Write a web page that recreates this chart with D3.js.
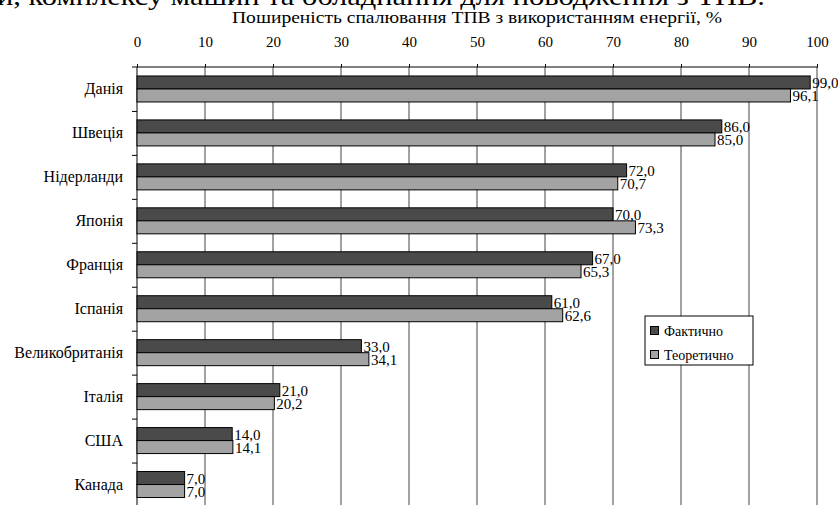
<!DOCTYPE html>
<html>
<head>
<meta charset="utf-8">
<script src="https://cdn.jsdelivr.net/npm/d3@7"></script>
</head>
<body style="margin:0">
<svg id="chart" width="838" height="505"></svg>
<script>
const COUNTRIES = ["Данія", "Швеція", "Нідерланди", "Японія", "Франція", "Іспанія",
  "Великобританія", "Італія", "США", "Канада"];
const ACTUAL = [99.0, 86.0, 72.0, 70.0, 67.0, 61.0, 33.0, 21.0, 14.0, 7.0];
const THEORETICAL = [96.1, 85.0, 70.7, 73.3, 65.3, 62.6, 34.1, 20.2, 14.1, 7.0];
const SERIES = ["Фактично", "Теоретично"];
const X_TICKS = [0, 10, 20, 30, 40, 50, 60, 70, 80, 90, 100];

const FONT = '"Liberation Serif", monospace';
const colors = { "Фактично": "#4a4a4a", "Теоретично": "#a3a3a3" };
const rows = COUNTRIES.map((c, i) => ({ country: c, values: [
  { key: "Фактично", value: ACTUAL[i] },
  { key: "Теоретично", value: THEORETICAL[i] },
] }));

const svg = d3.select("#chart");
const plotTop = 67, plotBottom = 506.5, plotLeft = 137, plotRight = 817;

const fmt = (v) => d3.format(".1f")(v).replace(".", ",");

// clipped heading line of the page above the chart
svg.append("text")
  .attr("x", -3).attr("y", 5)
  .attr("font-size", 26)
  .attr("textLength", 768).attr("lengthAdjust", "spacingAndGlyphs")
  .text("и, комплексу машин та обладнання для поводження з ТПВ.");

svg.append("text")
  .attr("x", 232).attr("y", 23)
  .attr("font-size", 17)
  .attr("textLength", 490).attr("lengthAdjust", "spacingAndGlyphs")
  .text("Поширеність спалювання ТПВ з використанням енергії, %");

const x = d3.scaleLinear().domain([0, 100]).range([plotLeft, plotRight]);
const y = d3.scaleBand().domain(COUNTRIES).range([plotTop, plotBottom]).padding(0);
const bw = y.bandwidth();
const ySub = d3.scaleBand().domain(SERIES).range([bw / 2 - 13, bw / 2 + 13]).padding(0);

// vertical grid
svg.append("g")
  .selectAll("line")
  .data(X_TICKS.slice(1))
  .join("line")
  .attr("x1", (d) => x(d)).attr("x2", (d) => x(d))
  .attr("y1", plotTop).attr("y2", plotBottom)
  .attr("stroke", "#444").attr("stroke-width", 1);

// top axis
const xAxis = svg.append("g")
  .attr("transform", `translate(0,${plotTop})`)
  .call(d3.axisTop(x).tickValues(X_TICKS).tickSize(3).tickPadding(17).tickSizeOuter(0));
xAxis.select(".domain").remove();
xAxis.append("line").attr("x1", plotLeft - 5).attr("x2", plotRight + 1).attr("stroke", "#000");
xAxis.selectAll("text").attr("fill", "#000").attr("font-size", 15);

// left axis
const yAxis = svg.append("g")
  .attr("transform", `translate(${plotLeft},0)`)
  .call(d3.axisLeft(y).tickSize(0).tickPadding(14));
yAxis.select(".domain").remove();
yAxis.append("line").attr("y1", plotTop).attr("y2", plotBottom).attr("stroke", "#000");
yAxis.selectAll(".bnd")
  .data(COUNTRIES.slice(1))
  .join("line")
  .attr("class", "bnd")
  .attr("x1", -5).attr("x2", 0)
  .attr("y1", (d) => y(d) + 0.5).attr("y2", (d) => y(d) + 0.5)
  .attr("stroke", "#000");
yAxis.selectAll("text").attr("fill", "#000").attr("font-size", 16);

// bars
const groups = svg.append("g")
  .selectAll("g")
  .data(rows)
  .join("g")
  .attr("transform", (d) => `translate(0,${y(d.country)})`);

groups.selectAll("rect")
  .data((d) => d.values)
  .join("rect")
  .attr("x", x(0))
  .attr("y", (d) => ySub(d.key))
  .attr("width", (d) => x(d.value) - x(0))
  .attr("height", ySub.bandwidth())
  .attr("fill", (d) => colors[d.key])
  .attr("stroke", "#000").attr("stroke-width", 1);

groups.selectAll("text")
  .data((d) => d.values)
  .join("text")
  .attr("x", (d) => x(d.value) + 2)
  .attr("y", (d) => ySub(d.key) + ySub.bandwidth() / 2 + 6)
  .attr("font-size", 15)
  .text((d) => fmt(d.value));

// legend
const legend = svg.append("g").attr("transform", "translate(645,316)");
legend.append("rect")
  .attr("width", 108).attr("height", 49)
  .attr("fill", "#fff").attr("stroke", "#000");
SERIES.forEach((s, i) => {
  legend.append("rect")
    .attr("x", 5.5).attr("y", 10.5 + i * 24)
    .attr("width", 8).attr("height", 8)
    .attr("fill", colors[s]).attr("stroke", "#000");
  legend.append("text")
    .attr("x", 19).attr("y", 20 + i * 24)
    .attr("font-size", 14)
    .text(s);
});

// every text gets the serif face explicitly
svg.selectAll("text").attr("font-family", FONT);
</script>
</body>
</html>
